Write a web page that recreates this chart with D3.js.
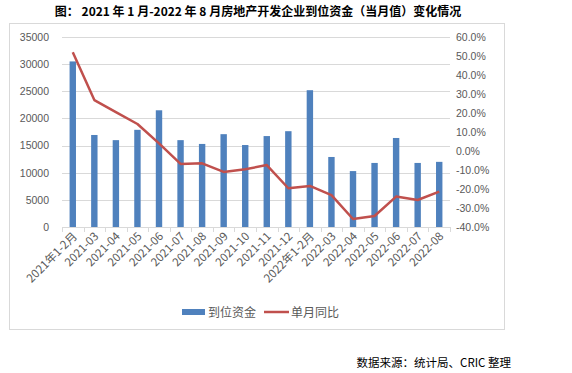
<!DOCTYPE html>
<html>
<head>
<meta charset="utf-8">
<script src="https://cdn.jsdelivr.net/npm/d3@7"></script>
<style>
  body { margin: 0; background: #fff; }
  text { font-family: "Noto Sans CJK SC", "Liberation Sans", sans-serif; }
</style>
</head>
<body>
<script>
// data
const months = ["2021年1-2月","2021-03","2021-04","2021-05","2021-06","2021-07","2021-08","2021-09","2021-10","2021-11","2021-12","2022年1-2月","2022-03","2022-04","2022-05","2022-06","2022-07","2022-08"]
const funds = [30500,16950,16000,17900,21500,16000,15300,17100,15100,16750,17650,25200,12900,10300,11800,16400,11800,12000]
const yoy = [52.0,26.8,20.5,14.2,4.0,-6.8,-6.5,-11.0,-9.6,-7.4,-19.6,-18.4,-23.2,-35.8,-34.2,-24.0,-25.8,-21.4]
const leftTicks = [0,5000,10000,15000,20000,25000,30000,35000]
const rightTicks = [-40,-30,-20,-10,0,10,20,30,40,50,60]

const W = 572, H = 373
const m = {left: 62, right: 450, top: 37, bottom: 227}
const grey = "#595959"

const svg = d3.select("body").append("svg")
  .attr("width", W).attr("height", H)

svg.append("text")
  .attr("x", 258).attr("y", 16)
  .attr("text-anchor", "middle")
  .attr("font-size", 12).attr("font-weight", "bold")
  .attr("fill", "#000")
  .text("图：  2021 年 1 月-2022 年 8 月房地产开发企业到位资金（当月值）变化情况")

// chart frame
svg.append("rect")
  .attr("x", 9.5).attr("y", 23.5).attr("width", 495).attr("height", 306)
  .attr("fill", "none").attr("stroke", "#d9d9d9")

const x = d3.scaleBand().domain(months).range([m.left, m.right])
const yL = d3.scaleLinear().domain([0, 35000]).range([m.bottom, m.top])
const yR = d3.scaleLinear().domain([-40, 60]).range([m.bottom, m.top])

// gridlines
svg.append("g").selectAll("line").data(leftTicks.slice(1)).join("line")
  .attr("x1", m.left).attr("x2", m.right)
  .attr("y1", d => Math.round(yL(d)) + 0.5).attr("y2", d => Math.round(yL(d)) + 0.5)
  .attr("stroke", "#d9d9d9")

const axL = svg.append("g").attr("transform", `translate(${m.left},0)`)
  .call(d3.axisLeft(yL).tickValues(leftTicks).tickSize(0).tickPadding(13).tickFormat(d3.format("d")))
axL.select(".domain").remove()
axL.selectAll("text").attr("fill", grey).attr("font-size", 10.5)
  .style("font-family", "'Liberation Sans', sans-serif")

const axR = svg.append("g").attr("transform", `translate(${m.right},0)`)
  .call(d3.axisRight(yR).tickValues(rightTicks).tickSize(0).tickPadding(6)
    .tickFormat(d => d.toFixed(1) + "%"))
axR.select(".domain").remove()
axR.selectAll("text").attr("fill", grey).attr("font-size", 10.5)
  .style("font-family", "'Liberation Sans', sans-serif")

// bars
svg.append("g").selectAll("rect").data(funds).join("rect")
  .attr("x", (d, i) => x(months[i]) + x.bandwidth() / 2 - 3.2)
  .attr("width", 6.4)
  .attr("y", d => yL(d))
  .attr("height", d => yL(0) - yL(d))
  .attr("fill", "#4f81bd")

// bottom axis with ticks between categories
svg.append("line")
  .attr("x1", m.left).attr("x2", m.right)
  .attr("y1", m.bottom + 0.5).attr("y2", m.bottom + 0.5)
  .attr("stroke", "#d9d9d9")
svg.append("g").selectAll("line").data(d3.range(months.length + 1)).join("line")
  .attr("x1", i => Math.round(m.left + i * x.step()) + 0.5)
  .attr("x2", i => Math.round(m.left + i * x.step()) + 0.5)
  .attr("y1", m.bottom).attr("y2", m.bottom + 5)
  .attr("stroke", "#d9d9d9")

svg.append("g").selectAll("text").data(months).join("text")
  .attr("transform", d => `translate(${x(d) + x.bandwidth() / 2 + 5},${m.bottom + 10}) rotate(-45)`)
  .attr("text-anchor", "end")
  .attr("font-size", 11.5)
  .attr("fill", grey)
  .text(d => d)

// line
const line = d3.line()
  .x((d, i) => x(months[i]) + x.bandwidth() / 2)
  .y(d => yR(d))
svg.append("path").datum(yoy)
  .attr("d", line)
  .attr("fill", "none")
  .attr("stroke", "#c0504d")
  .attr("stroke-width", 2.5)
  .attr("stroke-linejoin", "round")

// legend
const lg = svg.append("g").attr("transform", "translate(0,312)")
lg.append("rect").attr("x", 182).attr("y", -3).attr("width", 23).attr("height", 6).attr("fill", "#4f81bd")
lg.append("text").attr("x", 208).attr("y", 4.5).attr("font-size", 12).attr("fill", grey).text("到位资金")
lg.append("line").attr("x1", 264).attr("x2", 289).attr("y1", 0).attr("y2", 0)
  .attr("stroke", "#c0504d").attr("stroke-width", 2.5)
lg.append("text").attr("x", 291).attr("y", 4.5).attr("font-size", 12).attr("fill", grey).text("单月同比")

svg.append("text")
  .attr("x", 511).attr("y", 367)
  .attr("text-anchor", "end")
  .attr("font-size", 11.5)
  .attr("fill", "#000")
  .text("数据来源：统计局、CRIC 整理")
</script>
</body>
</html>
